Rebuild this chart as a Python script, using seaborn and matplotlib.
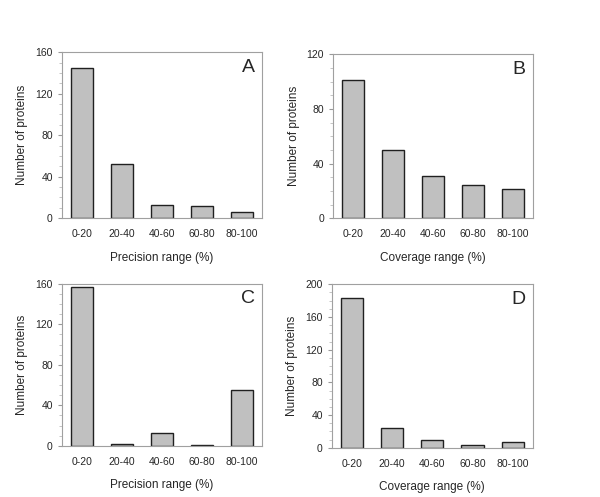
import numpy as np
import pandas as pd
import matplotlib
matplotlib.use("Agg")
import matplotlib.pyplot as plt
from matplotlib.ticker import MultipleLocator, FixedLocator
import seaborn as sns

# bins shared by all four panels
ranges = ["0-20", "20-40", "40-60", "60-80", "80-100"]

# counts
prec_A = [145, 52, 13, 12, 6]
cov_B = [101, 50, 31, 24, 21]
prec_C = [157, 2, 13, 1, 55]
cov_D = [183, 24, 9, 3, 7]

sns.set_style("white")
plt.rcParams['font.family'] = ['Liberation Sans', 'DejaVu Sans']

fig = plt.figure(figsize=(6.0, 4.97), dpi=100)

panels = [
    # values, xlabel, letter, ymax, ystep, axes rect
    (prec_A, "Precision range (%)", "A", 160, 40, [0.103, 0.561, 0.333, 0.334]),
    (cov_B, "Coverage range (%)", "B", 120, 40, [0.555, 0.561, 0.333, 0.330]),
    (prec_C, "Precision range (%)", "C", 160, 40, [0.103, 0.103, 0.333, 0.326]),
    (cov_D, "Coverage range (%)", "D", 200, 40, [0.553, 0.099, 0.335, 0.329]),
]

for vals, xlab, letter, ymax, ystep, rect in panels:
    ax = fig.add_axes(rect)
    df = pd.DataFrame({"range": ranges, "n": vals})
    sns.barplot(data=df, x="range", y="n", color="#c0c0c0", edgecolor="#202020",
                linewidth=1.0, width=0.55, saturation=1, ax=ax)
    ax.set_xlim(-0.5, 4.5)
    ax.set_ylim(0, ymax)
    ax.yaxis.set_major_locator(MultipleLocator(ystep))
    ax.yaxis.set_minor_locator(MultipleLocator(10))
    ax.xaxis.set_minor_locator(FixedLocator(np.arange(-0.5, 5, 1.0)))
    ax.tick_params(axis="x", which="major", length=0, labelsize=7.5, pad=8)
    ax.tick_params(axis="x", which="minor", length=3, color="#999999", direction="out")
    ax.tick_params(axis="y", which="major", length=3, color="#999999", labelsize=7.5,
                   direction="out", left=True)
    ax.tick_params(axis="y", which="minor", length=2, color="#bbbbbb", direction="out",
                   left=True)
    for s in ax.spines.values():
        s.set_color("#a0a0a0")
        s.set_linewidth(0.8)
    ax.set_xlabel(xlab, fontsize=8.5, labelpad=9)
    ax.set_ylabel("Number of proteins", fontsize=8.5, labelpad=5)
    ax.text(0.965, 0.96, letter, transform=ax.transAxes, ha="right", va="top",
            fontsize=14)

fig.savefig("out.png", dpi=100)
